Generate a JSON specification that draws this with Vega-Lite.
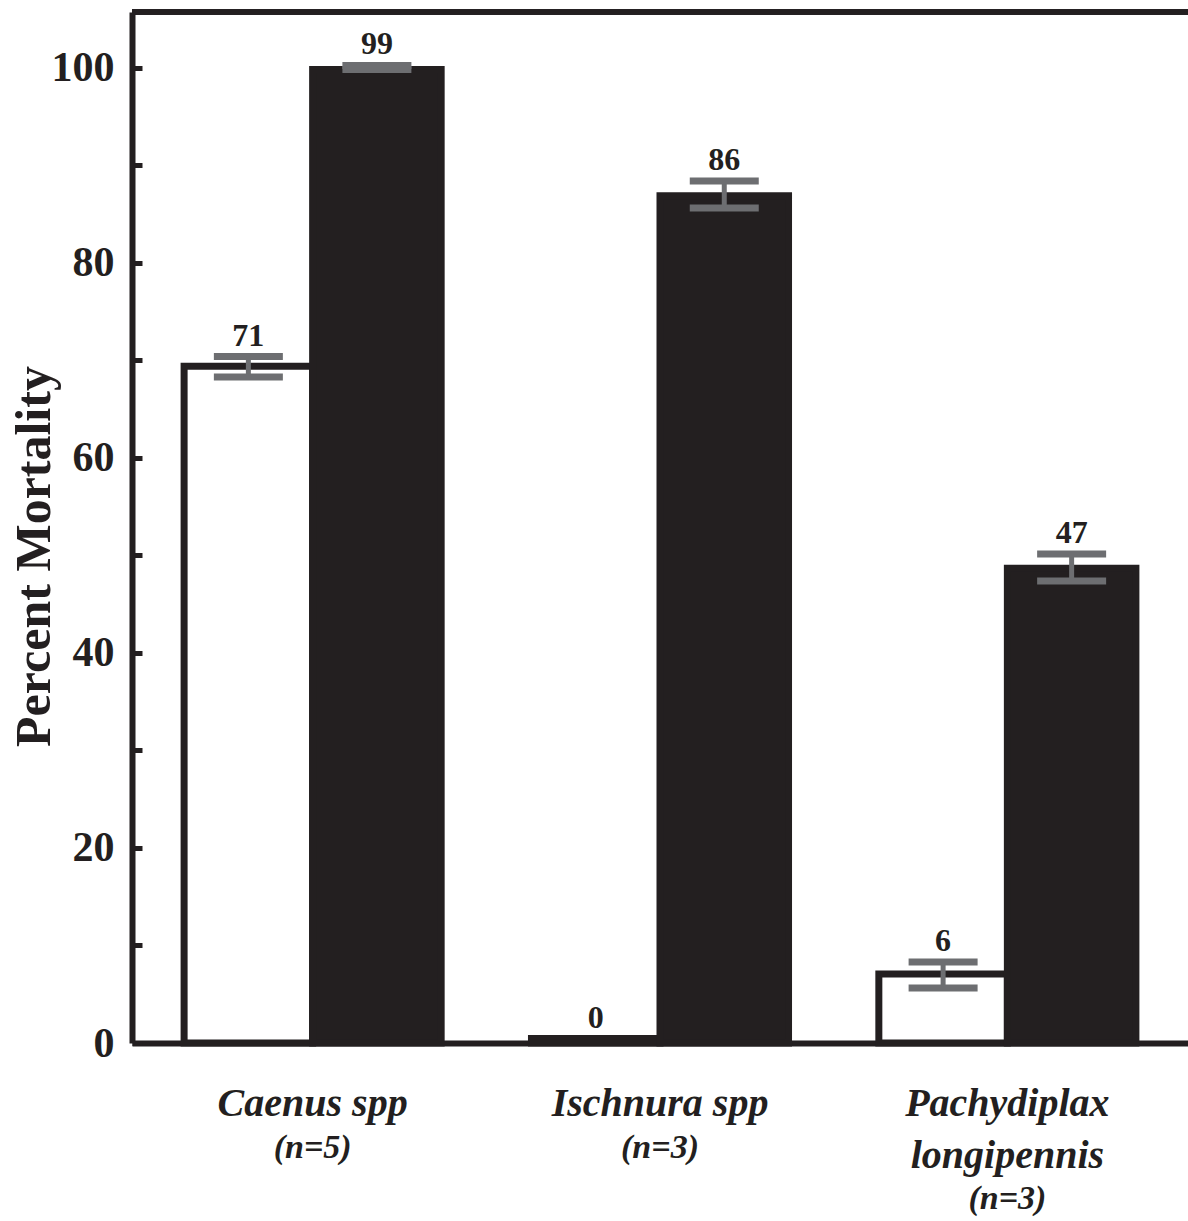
{
  "$schema": "https://vega.github.io/schema/vega-lite/v6.json",
  "width": 1056,
  "height": 1031,
  "autosize": {"type": "none"},
  "padding": {"left": 132, "top": 12, "right": 0, "bottom": 178},
  "background": "white",
  "config": {"view": {"stroke": null}, "font": "Liberation Serif"},
  "data": {
    "values": [
      {"species": "Caenus spp", "group": "Control", "value": 69.4, "lo": 68.3, "hi": 70.4, "label": "71"},
      {"species": "Caenus spp", "group": "Exposed", "value": 99.85, "lo": 99.85, "hi": 100.26, "label": "99"},
      {"species": "Ischnura spp", "group": "Control", "value": 0.46, "lo": null, "hi": null, "label": "0"},
      {"species": "Ischnura spp", "group": "Exposed", "value": 86.9, "lo": 85.64, "hi": 88.4, "label": "86"},
      {"species": "Pachydiplax longipennis", "group": "Control", "value": 7.08, "lo": 5.64, "hi": 8.31, "label": "6"},
      {"species": "Pachydiplax longipennis", "group": "Exposed", "value": 48.7, "lo": 47.38, "hi": 50.15, "label": "47"}
    ]
  },
  "resolve": {"axis": {"x": "independent"}},
  "layer": [
    {
      "mark": {"type": "bar", "stroke": "#231f20", "strokeWidth": 7},
      "encoding": {
        "x": {
          "field": "species", "type": "nominal", "sort": null,
          "scale": {"paddingInner": 0.26, "paddingOuter": 0.15},
          "axis": {
            "orient": "bottom",
            "title": null, "ticks": false, "labelAngle": 0,
            "domainColor": "#231f20", "domainWidth": 6,
            "labelExpr": "datum.value == 'Pachydiplax longipennis' ? ['Pachydiplax', 'longipennis'] : datum.value",
            "labelFont": "Liberation Serif", "labelFontStyle": "italic", "labelFontWeight": "bold",
            "labelFontSize": 40, "labelLineHeight": 52, "labelPadding": 40, "labelLimit": 0,
            "labelColor": "#231f20"
          }
        },
        "xOffset": {"field": "group", "type": "nominal", "sort": null, "scale": {"paddingInner": 0, "paddingOuter": 0}},
        "y": {
          "field": "value", "type": "quantitative", "title": "Percent Mortality",
          "scale": {"domain": [0, 105.74], "nice": false, "zero": true},
          "axis": {
            "values": [0, 10, 20, 30, 40, 50, 60, 70, 80, 90, 100],
            "labelExpr": "datum.value % 20 == 0 ? datum.label : ''",
            "grid": false,
            "domainColor": "#231f20", "domainWidth": 6,
            "tickColor": "#231f20", "tickWidth": 5, "tickSize": -10,
            "labelPadding": 28,
            "labelFont": "Liberation Serif", "labelFontWeight": "bold", "labelFontSize": 42, "labelColor": "#231f20",
            "titleFont": "Liberation Serif", "titleFontWeight": "bold", "titleFontSize": 50, "titleColor": "#231f20",
            "titleX": -98, "titleY": 544, "titleAngle": -90, "titleAlign": "center", "titleBaseline": "middle"
          }
        },
        "fill": {
          "field": "group", "type": "nominal",
          "scale": {"domain": ["Control", "Exposed"], "range": ["#ffffff", "#231f20"]},
          "legend": null
        }
      }
    },
    {
      "mark": {"type": "rule", "color": "#6d6e71", "strokeWidth": 5, "opacity": 1},
      "encoding": {
        "x": {
          "field": "species", "type": "nominal", "sort": null,
          "axis": {
            "orient": "bottom",
            "title": null, "ticks": false, "domain": false, "labelAngle": 0,
            "labelExpr": "datum.value == 'Caenus spp' ? '(n=5)' : datum.value == 'Ischnura spp' ? '(n=3)' : ['', '(n=3)']",
            "labelFont": "Liberation Serif", "labelFontStyle": "italic", "labelFontWeight": "bold",
            "labelFontSize": 34, "labelLineHeight": 51, "labelPadding": 87, "labelLimit": 0,
            "labelColor": "#231f20"
          }
        },
        "xOffset": {"field": "group", "type": "nominal", "sort": null},
        "y": {"field": "lo", "type": "quantitative", "title": "Percent Mortality"},
        "y2": {"field": "hi"}
      }
    },
    {
      "mark": {"type": "tick", "color": "#6d6e71", "size": 69, "thickness": 7, "opacity": 1},
      "encoding": {
        "x": {"field": "species", "type": "nominal", "sort": null, "axis": null},
        "xOffset": {"field": "group", "type": "nominal", "sort": null},
        "y": {"field": "lo", "type": "quantitative", "title": "Percent Mortality"}
      }
    },
    {
      "mark": {"type": "tick", "color": "#6d6e71", "size": 69, "thickness": 7, "opacity": 1},
      "encoding": {
        "x": {"field": "species", "type": "nominal", "sort": null, "axis": null},
        "xOffset": {"field": "group", "type": "nominal", "sort": null},
        "y": {"field": "hi", "type": "quantitative", "title": "Percent Mortality"}
      }
    },
    {
      "transform": [{"calculate": "isValid(datum.hi) ? datum.hi : datum.value", "as": "labelAt"}],
      "mark": {"type": "text", "font": "Liberation Serif", "fontWeight": "bold", "fontSize": 32, "baseline": "alphabetic", "dy": -11, "color": "#231f20"},
      "encoding": {
        "x": {"field": "species", "type": "nominal", "sort": null, "axis": null},
        "xOffset": {"field": "group", "type": "nominal", "sort": null},
        "y": {"field": "labelAt", "type": "quantitative", "title": "Percent Mortality"},
        "text": {"field": "label"}
      }
    },
    {
      "mark": {"type": "rule", "color": "#231f20", "strokeWidth": 5},
      "encoding": {
        "y": {"datum": 105.74, "type": "quantitative", "title": "Percent Mortality"}
      }
    }
  ]
}
